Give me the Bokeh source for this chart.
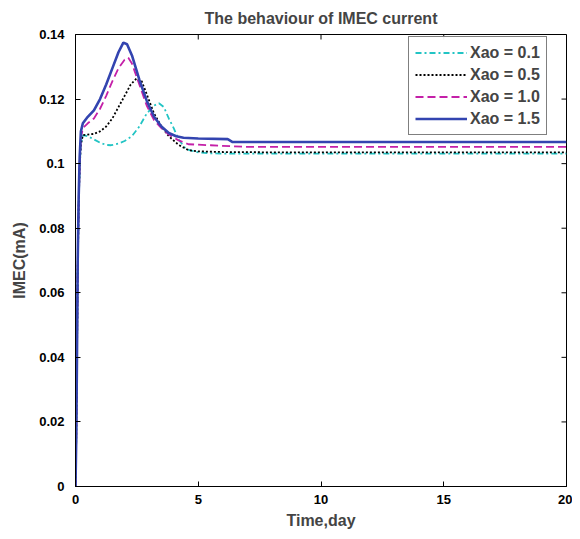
import math
from bokeh.plotting import figure
from bokeh.models import Legend, LegendItem, Range1d, FixedTicker
from bokeh.embed import file_html
from bokeh.resources import INLINE

# --- data ---
t_15 = [0, 0.03, 0.06, 0.09, 0.13, 0.17, 0.22, 0.3, 0.5, 0.75, 1.0, 1.25, 1.5, 1.75, 1.95, 2.1, 2.3, 2.6, 2.9, 3.2, 3.5, 3.8, 4.1, 4.4, 5, 6.2, 6.4, 8, 20]
y_15 = [0, 0.015, 0.04, 0.07, 0.09, 0.102, 0.11, 0.1125, 0.1145, 0.1165, 0.12, 0.1245, 0.1295, 0.1345, 0.1375, 0.137, 0.1335, 0.126, 0.1195, 0.1145, 0.1115, 0.1095, 0.1085, 0.108, 0.1078, 0.1076, 0.1067, 0.1067, 0.1067]

t_10 = [0, 0.03, 0.06, 0.09, 0.13, 0.17, 0.22, 0.3, 0.5, 0.75, 1.0, 1.25, 1.5, 1.75, 2.0, 2.15, 2.3, 2.6, 2.9, 3.2, 3.5, 3.8, 4.2, 4.6, 5.5, 6.9, 8, 20]
y_10 = [0, 0.015, 0.04, 0.068, 0.088, 0.1, 0.108, 0.111, 0.1125, 0.114, 0.117, 0.121, 0.1255, 0.1295, 0.1322, 0.1328, 0.131, 0.1245, 0.118, 0.1135, 0.111, 0.109, 0.1072, 0.106, 0.1057, 0.1052, 0.1052, 0.1052]

t_05 = [0, 0.03, 0.06, 0.09, 0.13, 0.17, 0.22, 0.3, 0.5, 0.75, 1.0, 1.25, 1.5, 1.75, 2.0, 2.25, 2.5, 2.7, 2.9, 3.2, 3.5, 3.8, 4.2, 4.6, 5, 6, 8, 20]
y_05 = [0, 0.015, 0.04, 0.067, 0.087, 0.099, 0.106, 0.1088, 0.109, 0.1092, 0.110, 0.1115, 0.114, 0.1175, 0.121, 0.1245, 0.1265, 0.1255, 0.1215, 0.1155, 0.1115, 0.1085, 0.1058, 0.1042, 0.1038, 0.1036, 0.1035, 0.1035]

t_01 = [0, 0.03, 0.06, 0.09, 0.13, 0.17, 0.22, 0.3, 0.5, 0.75, 1.0, 1.25, 1.45, 1.75, 2.0, 2.3, 2.6, 2.9, 3.2, 3.4, 3.6, 3.8, 4.0, 4.2, 4.5, 5.0, 5.5, 6, 20]
y_01 = [0, 0.015, 0.04, 0.067, 0.087, 0.099, 0.106, 0.1088, 0.1085, 0.1075, 0.1065, 0.1058, 0.1057, 0.1062, 0.107, 0.1085, 0.1115, 0.1155, 0.118, 0.1187, 0.1175, 0.114, 0.111, 0.1075, 0.1045, 0.1035, 0.1032, 0.1031, 0.1031]

labels = ["Xao = 0.1", "Xao = 0.5", "Xao = 1.0", "Xao = 1.5"]
x_ticks = [0, 5, 10, 15, 20]
y_ticks = [0, 0.02, 0.04, 0.06, 0.08, 0.1, 0.12, 0.14]
y_tick_labels = {0: "0", 0.02: "0.02", 0.04: "0.04", 0.06: "0.06", 0.08: "0.08", 0.1: "0.1", 0.12: "0.12", 0.14: "0.14"}
x_lim = (0, 20)
y_lim = (0, 0.14)

FONT = "Liberation Sans"

p = figure(width=572, height=531, output_backend="svg", toolbar_location=None,
           x_range=Range1d(*x_lim), y_range=Range1d(*y_lim),
           min_border_left=75, min_border_right=6, min_border_top=34, min_border_bottom=44)

p.title.text = "The behaviour of IMEC current"
p.title.align = "center"
p.title.text_font = FONT
p.title.text_font_size = "16px"
p.title.text_font_style = "bold"
p.title.offset = 0
p.title.standoff = 15

p.grid.visible = False
p.outline_line_color = "black"
p.outline_line_width = 1
p.background_fill_color = "white"
p.border_fill_color = "white"

for ax in (p.xaxis[0], p.yaxis[0]):
    ax.major_tick_in = 5
    ax.major_tick_out = 0
    ax.minor_tick_line_color = None
    ax.axis_line_color = "black"
    ax.major_tick_line_color = "black"
    ax.major_label_text_font = FONT
    ax.major_label_text_font_size = "13px"
    ax.major_label_text_font_style = "bold"
    ax.major_label_text_color = "black"
    ax.axis_label_text_font = FONT
    ax.axis_label_text_font_size = "16px"
    ax.axis_label_text_font_style = "bold"

p.xaxis[0].ticker = FixedTicker(ticks=x_ticks)
p.yaxis[0].ticker = FixedTicker(ticks=y_ticks)
p.yaxis[0].major_label_overrides = y_tick_labels
p.xaxis[0].axis_label = "Time,day"
p.yaxis[0].axis_label = "IMEC(mA)"
p.xaxis[0].major_label_standoff = 8
p.yaxis[0].major_label_standoff = 11
p.xaxis[0].axis_label_standoff = 5
p.yaxis[0].axis_label_standoff = 8

# inward tick marks on the top and right frame edges
p.ray(x=x_ticks, y=[y_lim[1]] * len(x_ticks), length=5, angle=-math.pi / 2,
      length_units="screen", line_color="black", line_width=1)
p.ray(x=[x_lim[1]] * len(y_ticks), y=y_ticks, length=5, angle=math.pi,
      length_units="screen", line_color="black", line_width=1)

r1 = p.line(t_01, y_01, line_color="#22c4c4", line_width=1.8, line_dash="6 3 2 3")
r2 = p.line(t_05, y_05, line_color="black", line_width=1.8, line_dash="2 2")
r3 = p.line(t_10, y_10, line_color="#c420a8", line_width=1.8, line_dash="8 4")
r4 = p.line(t_15, y_15, line_color="#3344b0", line_width=2.6)

legend = Legend(items=[LegendItem(label=labels[0], renderers=[r1]),
                       LegendItem(label=labels[1], renderers=[r2]),
                       LegendItem(label=labels[2], renderers=[r3]),
                       LegendItem(label=labels[3], renderers=[r4])],
                location=(333, 351))
legend.label_text_font = FONT
legend.label_text_font_size = "16px"
legend.label_text_font_style = "bold"
legend.glyph_width = 52
legend.glyph_height = 19
legend.label_height = 19
legend.label_standoff = 3
legend.padding = 6
legend.spacing = 3
legend.margin = 0
legend.border_line_color = "black"
legend.border_line_width = 1.5
p.add_layout(legend, "center")

open("out.html", "w").write(file_html(p, INLINE))
